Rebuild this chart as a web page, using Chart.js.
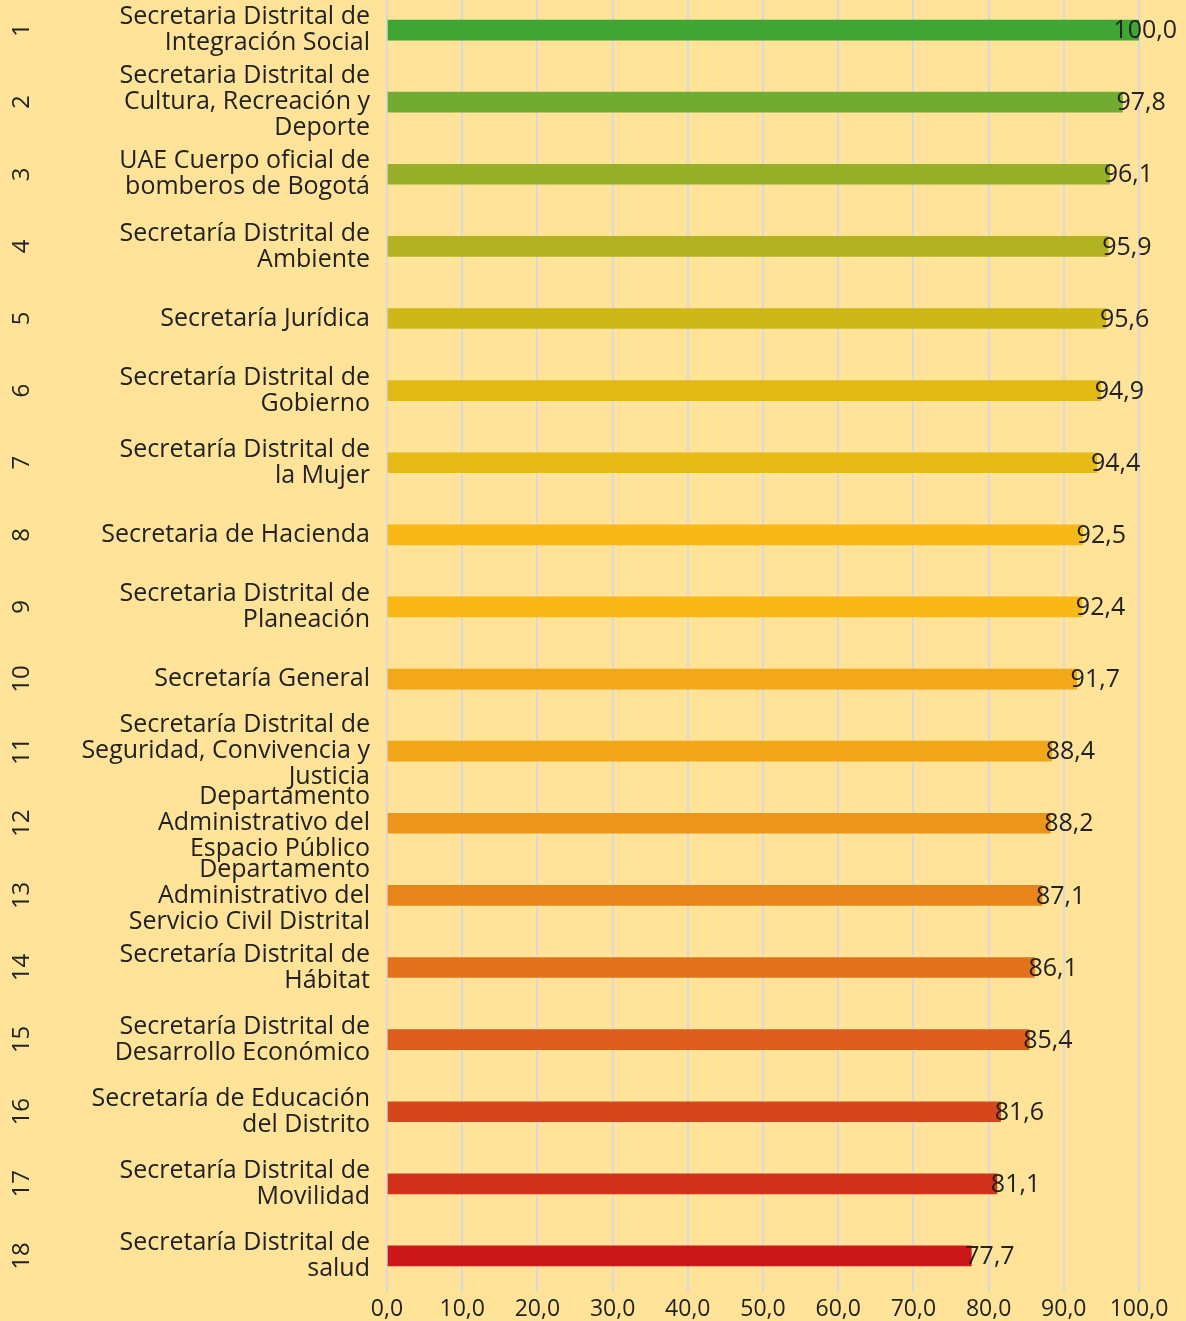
<!DOCTYPE html>
<html>
<head>
<meta charset="utf-8">
<script src="https://cdn.jsdelivr.net/npm/chart.js@4/dist/chart.umd.min.js"></script>
<style>
  html, body { margin: 0; padding: 0; background: #FEE398; overflow: hidden; }
  #wrap { position: absolute; left: 0; top: -6px; width: 1186px; height: 1327px; }
</style>
</head>
<body>
<div id="wrap"><canvas id="barChart" width="1186" height="1327"></canvas></div>
<script>
const ranks = ['1','2','3','4','5','6','7','8','9','10','11','12','13','14','15','16','17','18'];
const entidades = [
  ['Secretaria Distrital de', 'Integración Social'],
  ['Secretaria Distrital de', 'Cultura, Recreación y', 'Deporte'],
  ['UAE Cuerpo oficial de', 'bomberos de Bogotá'],
  ['Secretaría Distrital de', 'Ambiente'],
  'Secretaría Jurídica',
  ['Secretaría Distrital de', 'Gobierno'],
  ['Secretaría Distrital de', 'la Mujer'],
  'Secretaria de Hacienda',
  ['Secretaria Distrital de', 'Planeación'],
  'Secretaría General',
  ['Secretaría Distrital de', 'Seguridad, Convivencia y', 'Justicia'],
  ['Departamento', 'Administrativo del', 'Espacio Público'],
  ['Departamento', 'Administrativo del', 'Servicio Civil Distrital'],
  ['Secretaría Distrital de', 'Hábitat'],
  ['Secretaría Distrital de', 'Desarrollo Económico'],
  ['Secretaría de Educación', 'del Distrito'],
  ['Secretaría Distrital de', 'Movilidad'],
  ['Secretaría Distrital de', 'salud']
];
const puntajes = [100.0, 97.8, 96.1, 95.9, 95.6, 94.9, 94.4, 92.5, 92.4, 91.7, 88.4, 88.2, 87.1, 86.1, 85.4, 81.6, 81.1, 77.7];
const colores = ['#3FA535','#72AB31','#98AF2A','#B2B322','#CDB818','#E2B815','#E6BA17','#F8B817','#F8B817',
  '#F2A818','#F2A718','#EC951A','#E8851A','#E3721C','#DD5D1D','#D6461D','#D2311B','#CC181B'];
const xTicks = [0, 10, 20, 30, 40, 50, 60, 70, 80, 90, 100];

const FONT = '"Open Sans", sans-serif';
const TEXT = '#222222';
const fmt = v => v.toFixed(1).replace('.', ',');

// rank numbers, rotated, at far left
const rankPlugin = {
  id: 'ranks',
  afterDraw(chart) {
    const ctx = chart.ctx, y = chart.scales.y;
    ctx.save();
    ctx.fillStyle = TEXT;
    ctx.font = '24px ' + FONT;
    ctx.textAlign = 'center';
    ctx.textBaseline = 'middle';
    ranks.forEach((r, i) => {
      ctx.save();
      ctx.translate(22, y.getPixelForValue(i));
      ctx.rotate(-Math.PI / 2);
      ctx.fillText(r, 0, 0);
      ctx.restore();
    });
    ctx.restore();
  }
};

// value labels at the end of every bar
const valuePlugin = {
  id: 'values',
  afterDatasetsDraw(chart) {
    const ctx = chart.ctx;
    const meta = chart.getDatasetMeta(0);
    ctx.save();
    ctx.fillStyle = TEXT;
    ctx.font = '25px ' + FONT;
    ctx.textAlign = 'left';
    ctx.textBaseline = 'middle';
    meta.data.forEach((bar, i) => {
      const t = fmt(puntajes[i]);
      const w = ctx.measureText(t).width;
      const x = Math.min(bar.x - 6, chart.width - w - 9);
      ctx.fillText(t, x, bar.y + 1);
    });
    ctx.restore();
  }
};

new Chart(document.getElementById('barChart').getContext('2d'), {
  type: 'bar',
  data: {
    labels: entidades,
    datasets: [{
      data: puntajes,
      backgroundColor: colores,
      borderWidth: 0,
      barThickness: 20
    }]
  },
  options: {
    indexAxis: 'y',
    responsive: false,
    animation: false,
    layout: { padding: { left: 0, top: 0, bottom: 0, right: 47 } },
    plugins: { legend: { display: false }, tooltip: { enabled: false } },
    scales: {
      x: {
        min: 0,
        max: 100,
        afterFit(scale) {
          scale.height = 29;
          scale.paddingLeft = 0;
          scale.paddingRight = 0;
        },
        afterBuildTicks(scale) { scale.ticks = xTicks.map(v => ({ value: v })); },
        grid: { color: '#D9D9D9', lineWidth: 2, drawTicks: false },
        border: { display: false },
        ticks: {
          padding: 4,
          color: TEXT,
          font: { family: FONT, size: 23 },
          maxRotation: 0,
          callback: v => fmt(v)
        }
      },
      y: {
        afterFit(scale) {
          scale.width = 387;
          scale.paddingTop = 0;
          scale.paddingBottom = 0;
        },
        grid: { display: false, drawTicks: false },
        border: { display: false },
        ticks: {
          padding: 17,
          color: TEXT,
          font: { family: FONT, size: 25, lineHeight: 1.04 },
          autoSkip: false
        }
      }
    }
  },
  plugins: [rankPlugin, valuePlugin]
});
</script>
</body>
</html>
